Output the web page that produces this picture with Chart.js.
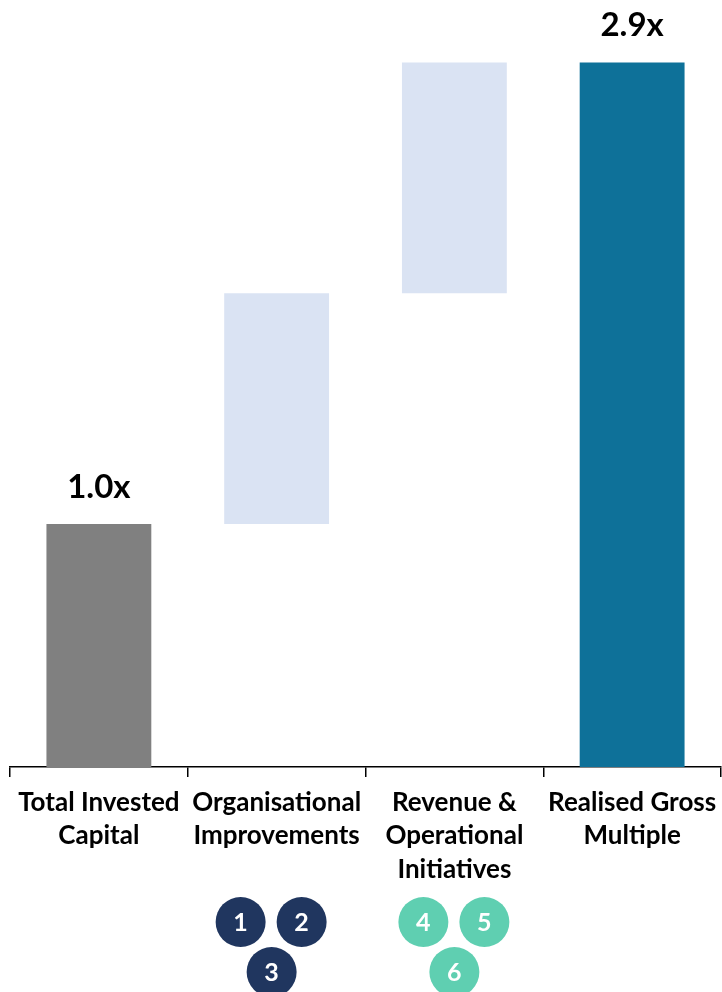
<!DOCTYPE html>
<html>
<head>
<meta charset="utf-8">
<script src="https://cdn.jsdelivr.net/npm/chart.js@4"></script>
<style>
  html, body { margin: 0; padding: 0; background: #fff; }
  #wrap { width: 722px; height: 992px; }
</style>
</head>
<body>
<div id="wrap"><canvas id="chart" width="722" height="992"></canvas></div>
<script>
// chart data
const categories = [
    ['Total Invested', 'Capital'],
    ['Organisational', 'Improvements'],
    ['Revenue &', 'Operational', 'Initiatives'],
    ['Realised Gross', 'Multiple']
];
const barStart = [0, 1.0, 1.95, 0];
const barEnd   = [1.0, 1.95, 2.9, 2.9];
const valueLabels = ['1.0x', '', '', '2.9x'];
const barColors = ['#808080', '#DAE3F3', '#DAE3F3', '#0E7199'];

// numbered circles under the middle categories
const circleNumbers = [[1, 2, 3], [4, 5, 6]];
const circleCategory = [1, 2];
const circleColors = ['#20365F', '#5FCFB1'];

const FONT = 'Lato, "Open Sans", sans-serif';

// value labels on top of bars
const topLabels = {
    id: 'topLabels',
    afterDatasetsDraw(chart) {
        const ctx = chart.ctx;
        const meta = chart.getDatasetMeta(0);
        ctx.save();
        ctx.font = 'bold 33px ' + FONT;
        ctx.fillStyle = '#000';
        ctx.textAlign = 'center';
        ctx.textBaseline = 'middle';
        meta.data.forEach((bar, i) => {
            if (!valueLabels[i]) return;
            ctx.fillText(valueLabels[i], bar.x, bar.y - 37);
        });
        ctx.restore();
    }
};

// little numbered bubbles
const bubbles = {
    id: 'bubbles',
    afterDraw(chart) {
        const ctx = chart.ctx;
        const x = chart.scales.x;
        const base = chart.chartArea.bottom;
        const offsets = [[-31, 30, 0], [-31, 30, 0]];
        const rowY = [155, 205];
        ctx.save();
        ctx.font = 'bold 25px ' + FONT;
        ctx.textAlign = 'center';
        ctx.textBaseline = 'middle';
        circleNumbers.forEach((nums, g) => {
            const cx = x.getPixelForValue(circleCategory[g]) - 5 + g * 5;
            nums.forEach((n, k) => {
                const px = cx + offsets[g][k];
                const py = base + (k < 2 ? rowY[0] : rowY[1]);
                ctx.beginPath();
                ctx.arc(px, py, 25, 0, Math.PI * 2);
                ctx.fillStyle = circleColors[g];
                ctx.fill();
                ctx.fillStyle = '#fff';
                ctx.fillText(String(n), px, py + 1);
            });
        });
        ctx.restore();
    }
};

new Chart(document.getElementById('chart'), {
    type: 'bar',
    data: {
        labels: categories,
        datasets: [{
            data: barStart.map((s, i) => [s, barEnd[i]]),
            backgroundColor: barColors,
            borderWidth: 0,
            categoryPercentage: 1,
            barPercentage: 0.59
        }]
    },
    options: {
        responsive: false,
        animation: false,
        layout: { padding: { left: 10, right: 1, top: 14, bottom: 0 } },
        plugins: { legend: { display: false }, tooltip: { enabled: false } },
        scales: {
            x: {
                grid: { drawOnChartArea: false, color: '#000', tickLength: 10, lineWidth: 1.5 },
                border: { display: true, color: '#000', width: 1.5 },
                ticks: {
                    color: '#000',
                    padding: 9,
                    maxRotation: 0,
                    autoSkip: false,
                    font: { family: FONT, size: 26, weight: 'bold', lineHeight: 1.28 }
                },
                afterFit(scale) {
                    scale.height = 225;
                    scale.paddingLeft = 0;
                    scale.paddingRight = 0;
                }
            },
            y: {
                display: false,
                min: 0,
                max: 3.1
            }
        }
    },
    plugins: [topLabels, bubbles]
});
</script>
</body>
</html>
